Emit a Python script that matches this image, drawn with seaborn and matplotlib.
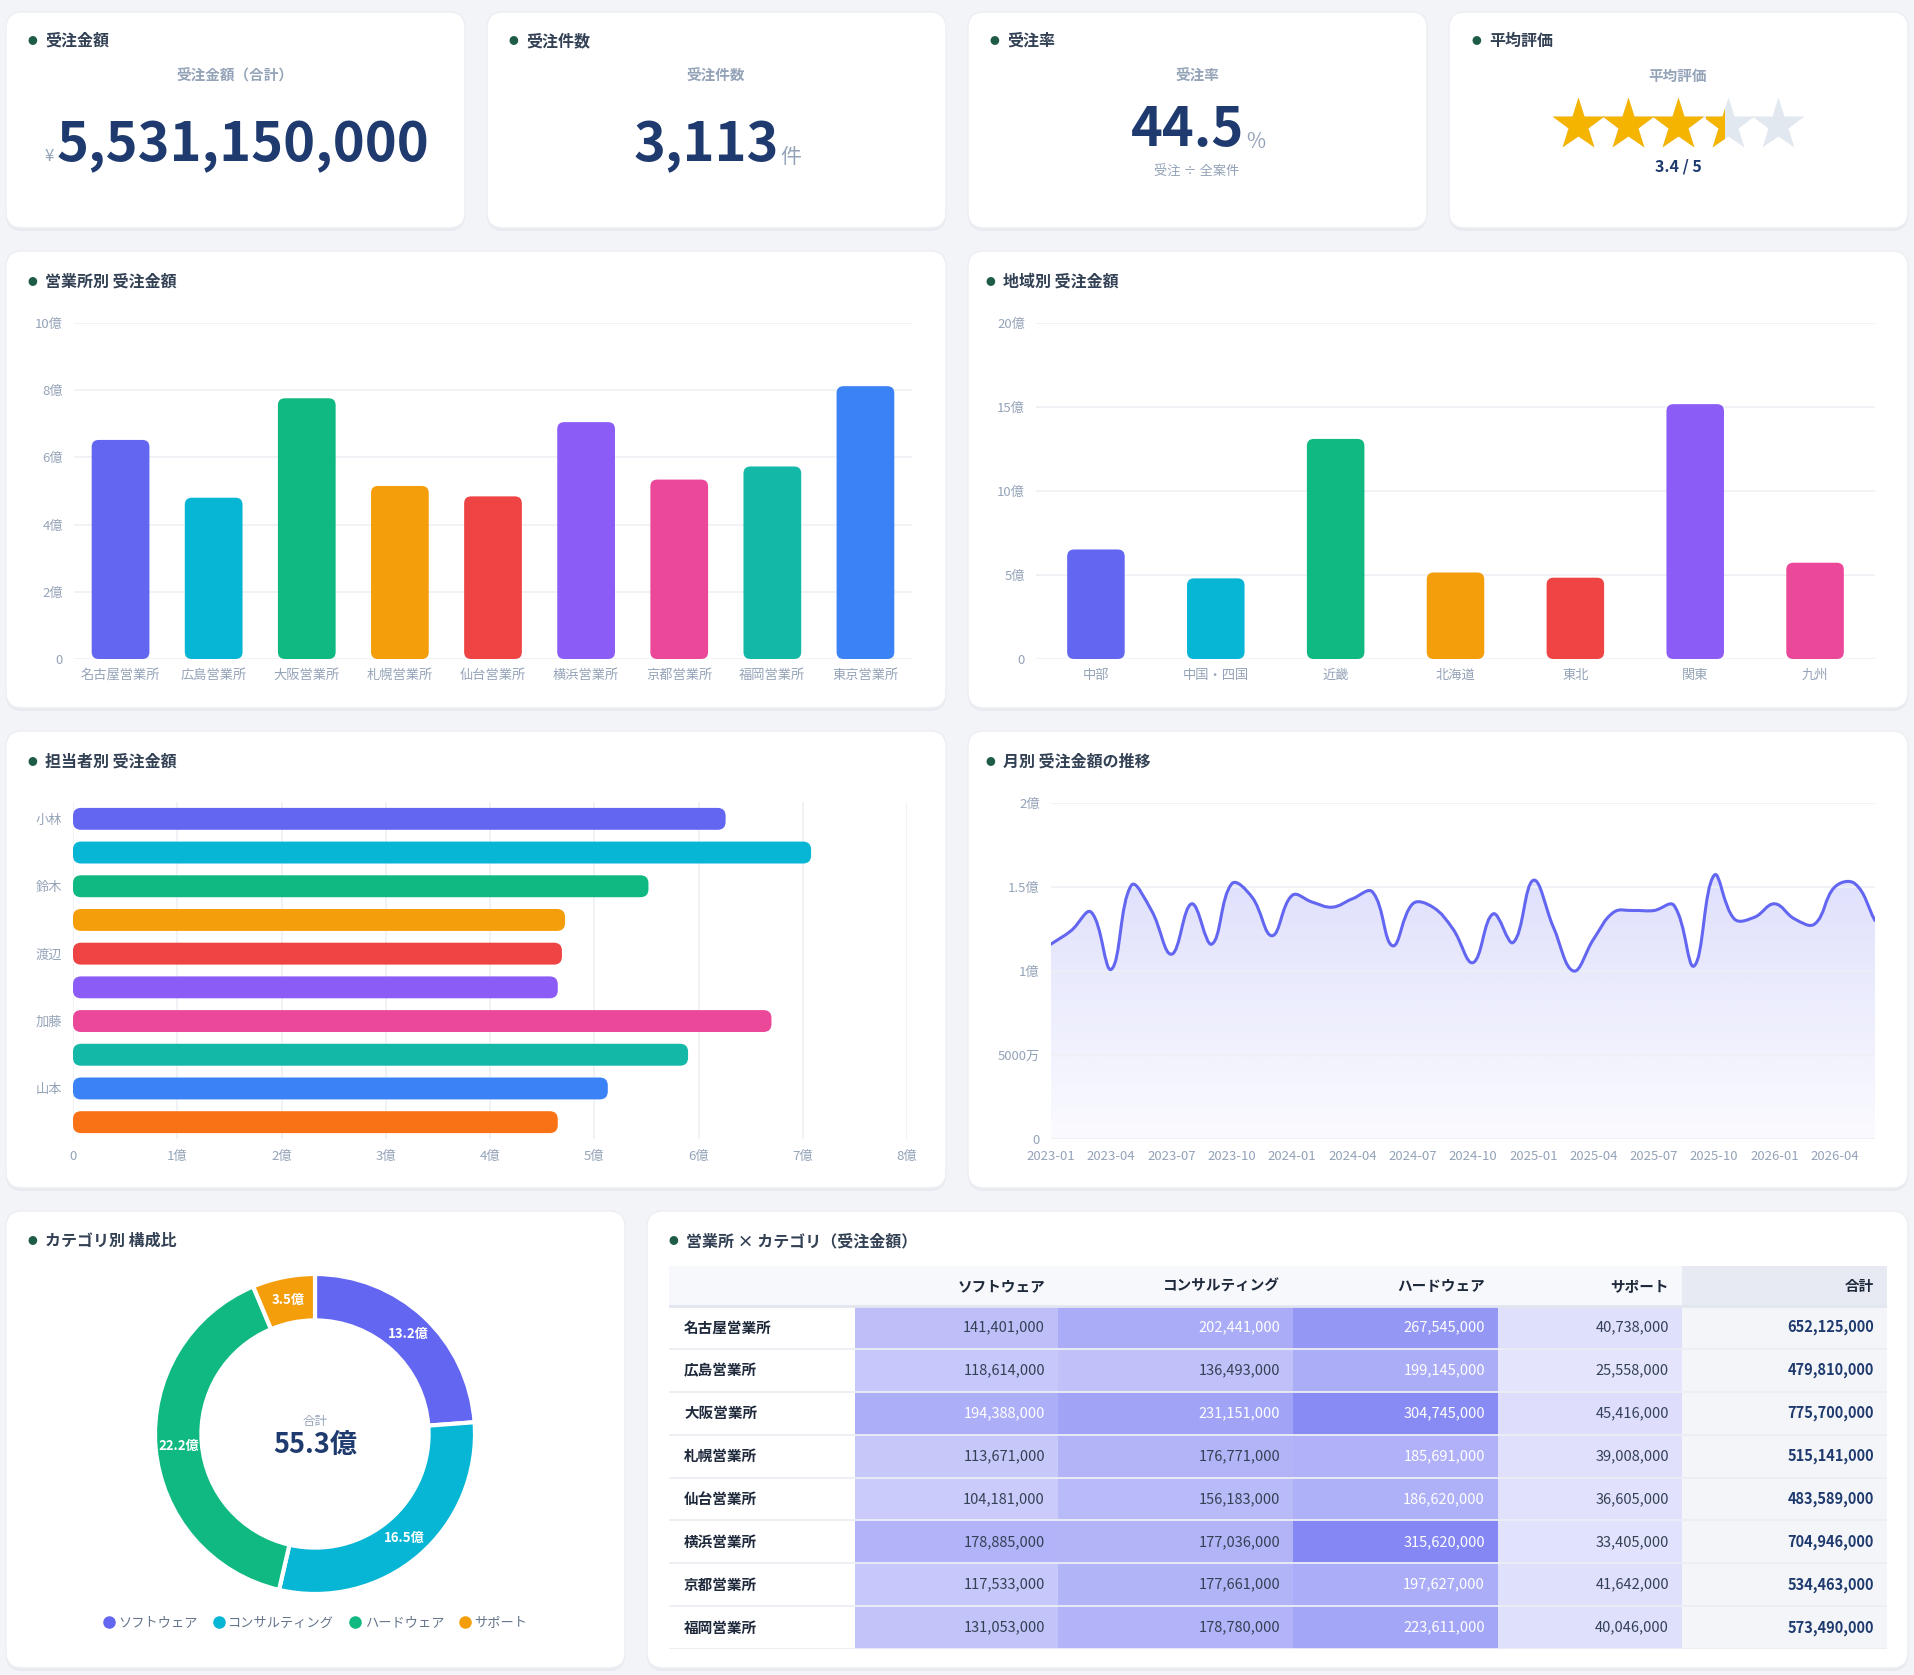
import numpy as np
import pandas as pd
import matplotlib
matplotlib.use('Agg')
import matplotlib.pyplot as plt
import seaborn as sns
from matplotlib.patches import FancyBboxPatch, Rectangle, PathPatch
from matplotlib.path import Path
from matplotlib.colors import LinearSegmentedColormap, to_rgb
from matplotlib.lines import Line2D

# ---------------- data ----------------
offices = ['名古屋営業所', '広島営業所', '大阪営業所', '札幌営業所', '仙台営業所',
           '横浜営業所', '京都営業所', '福岡営業所', '東京営業所']
office_sales = [6.52, 4.80, 7.76, 5.15, 4.84, 7.05, 5.34, 5.73, 8.12]  # 億円

regions = ['中部', '中国・四国', '近畿', '北海道', '東北', '関東', '九州']
region_sales = [6.52, 4.80, 13.10, 5.15, 4.84, 15.17, 5.73]

people = ['小林', '', '鈴木', '', '渡辺', '', '加藤', '', '山本', '']
person_sales = [6.26, 7.08, 5.52, 4.72, 4.69, 4.65, 6.70, 5.90, 5.13, 4.65]

months = pd.date_range('2023-01-01', periods=42, freq='MS').strftime('%Y-%m').tolist()
monthly_sales = [1.16, 1.24, 1.35, 1.01, 1.51, 1.36, 1.10, 1.40, 1.16, 1.52,
                 1.44, 1.21, 1.45, 1.41, 1.38, 1.43, 1.47, 1.15, 1.40, 1.38,
                 1.25, 1.05, 1.34, 1.17, 1.54, 1.26, 1.00, 1.19, 1.35, 1.36,
                 1.36, 1.39, 1.03, 1.57, 1.31, 1.32, 1.40, 1.31, 1.28, 1.50,
                 1.52, 1.30]

categories = ['ソフトウェア', 'コンサルティング', 'ハードウェア', 'サポート']
category_sales = [13.2, 16.5, 22.2, 3.5]

table_offices = offices[:8]
software = [141401000, 118614000, 194388000, 113671000, 104181000, 178885000, 117533000, 131053000]
consulting = [202441000, 136493000, 231151000, 176771000, 156183000, 177036000, 177661000, 178780000]
hardware = [267545000, 199145000, 304745000, 185691000, 186620000, 315620000, 197627000, 223611000]
support = [40738000, 25558000, 45416000, 39008000, 36605000, 33405000, 41642000, 40046000]

total_amount = 5531150000
order_count = 3113
win_rate = 44.5
rating = 3.4

palette = ['#6366f1', '#06b6d4', '#10b981', '#f59e0b', '#ef4444',
           '#8b5cf6', '#ec4899', '#14b8a6', '#3b82f6', '#f97316']

# ---------------- setup ----------------
W, H = 1914, 1675
plt.rcParams['font.family'] = ['Noto Sans CJK JP', 'DejaVu Sans']
fig = plt.figure(figsize=(W / 100, H / 100), dpi=100, facecolor='#f3f4f7')

NAVY = '#1e3a6e'
TICK = '#94a3b8'
GRID = '#edf0f4'
TITLE = '#334155'


def fx(x):
    return x / W


def fy(y):
    return 1 - y / H


def add_ax(x0, y0, x1, y1):
    return fig.add_axes([fx(x0), fy(y1), (x1 - x0) / W, (y1 - y0) / H])


def card(x0, y0, x1, y1):
    sh = FancyBboxPatch((x0 / 100, (H - y1 - 3) / 100), (x1 - x0) / 100, (y1 - y0) / 100,
                        boxstyle='round,pad=0,rounding_size=0.16', transform=fig.dpi_scale_trans,
                        fc='#e8eaf0', ec='none', zorder=-3)
    fig.add_artist(sh)
    p = FancyBboxPatch((x0 / 100, (H - y1) / 100), (x1 - x0) / 100, (y1 - y0) / 100,
                       boxstyle='round,pad=0,rounding_size=0.16', transform=fig.dpi_scale_trans,
                       fc='white', ec='#eceef3', lw=1, zorder=-2)
    fig.add_artist(p)


def title(x, y, s):
    fig.text(fx(x), fy(y), '●', color='#1f5c45', fontsize=7, ha='center', va='center')
    fig.text(fx(x + 13), fy(y), s, fontsize=11.5, weight='bold', color=TITLE, ha='left', va='center')


def style(ax):
    for s in ax.spines.values():
        s.set_visible(False)
    ax.tick_params(length=0, labelsize=9.5, labelcolor=TICK)
    ax.set_xlabel('')
    ax.set_ylabel('')
    ax.patch.set_alpha(0)


def round_bars(ax, r_px):
    x0, x1 = ax.get_xlim()
    y0, y1 = ax.get_ylim()
    bb = ax.get_position()
    sx = abs(x1 - x0) / (bb.width * W)
    sy = abs(y1 - y0) / (bb.height * H)
    for p in list(ax.patches):
        x, y, w, h = p.get_x(), p.get_y(), p.get_width(), p.get_height()
        fc = p.get_facecolor()
        p.remove()
        ax.add_patch(FancyBboxPatch((x, y), w, h,
                                    boxstyle=f'round,pad=0,rounding_size={r_px * sx}',
                                    mutation_aspect=sy / sx, fc=fc, ec='none', zorder=2))


def smooth_path(ax, xs, ys, tension=0.4):
    # bezier path through the points (same idea as a "tension" line style)
    bb = ax.get_position()
    x0, x1 = ax.get_xlim()
    y0, y1 = ax.get_ylim()
    kx = bb.width * W / (x1 - x0)
    ky = bb.height * H / (y1 - y0)
    P = np.column_stack([np.asarray(xs, float) * kx, np.asarray(ys, float) * ky])
    n = len(P)
    cp_prev = P.copy()
    cp_next = P.copy()
    for i in range(n):
        p0 = P[max(i - 1, 0)]
        p1 = P[i]
        p2 = P[min(i + 1, n - 1)]
        d01 = np.hypot(*(p1 - p0))
        d12 = np.hypot(*(p2 - p1))
        tot = d01 + d12
        s01 = d01 / tot if tot else 0
        s12 = d12 / tot if tot else 0
        cp_prev[i] = p1 - tension * s01 * (p2 - p0)
        cp_next[i] = p1 + tension * s12 * (p2 - p0)
    verts = [P[0]]
    codes = [Path.MOVETO]
    for i in range(n - 1):
        verts += [cp_next[i], cp_prev[i + 1], P[i + 1]]
        codes += [Path.CURVE4] * 3
    verts = np.array(verts) / [kx, ky]
    return verts, codes


# ---------------- cards ----------------
kpi_x = [(6, 465), (487, 946), (968, 1427), (1449, 1908)]
for a, b in kpi_x:
    card(a, 12, b, 228)
card(6, 251, 946, 708)
card(968, 251, 1908, 708)
card(6, 731, 946, 1188)
card(968, 731, 1908, 1188)
card(6, 1211, 625, 1668)
card(647, 1211, 1908, 1668)

# ---------------- KPI ----------------
title(32, 41, '受注金額')
title(513, 41, '受注件数')
title(994, 41, '受注率')
title(1476, 41, '平均評価')

for cx, s in [(235, '受注金額（合計）'), (716, '受注件数'), (1197, '受注率'), (1678, '平均評価')]:
    fig.text(fx(cx), fy(76), s, fontsize=10.5, weight='bold', color=TICK, ha='center', va='center')

renderer = fig.canvas.get_renderer()


def big_number(cx, base_y, s, prefix=None, suffix=None):
    t = fig.text(fx(cx), fy(base_y), s, fontsize=39, weight='bold', color=NAVY,
                 ha='center', va='baseline')
    bb = t.get_window_extent(renderer=renderer)
    if prefix:
        fig.text((bb.x0 - 3) / W, fy(base_y), prefix, fontsize=12, color=TICK,
                 ha='right', va='baseline')
    if suffix:
        fig.text((bb.x1 + 2) / W, fy(base_y + 2), suffix, fontsize=15, color=TICK,
                 ha='left', va='baseline')


big_number(243, 161, f'{total_amount:,}', prefix='¥')
big_number(706, 161, f'{order_count:,}', suffix='件')
big_number(1188, 146, f'{win_rate}', suffix='%')
fig.text(fx(1197), fy(172), '受注 ÷ 全案件', fontsize=9.5, color=TICK, ha='center', va='center')

# stars
axs = add_ax(1449, 90, 1908, 160)
axs.set_xlim(1449, 1908)
axs.set_ylim(160, 90)
axs.axis('off')
star_x = [1578 + 50 * i for i in range(5)]
for i, sxp in enumerate(star_x):
    axs.plot([sxp], [125], marker='*', ms=40, color='#e2e8f0', mec='none')
    if i < int(rating):
        axs.plot([sxp], [125], marker='*', ms=40, color='#f5b400', mec='none')
    elif i == int(rating):
        frac = rating - int(rating)
        ln, = axs.plot([sxp], [125], marker='*', ms=40, color='#f5b400', mec='none')
        clip = Rectangle((sxp - 22, 90), 44 * frac, 70, transform=axs.transData)
        ln.set_clip_path(clip)
fig.text(fx(1678), fy(167), f'{rating} / 5', fontsize=11.5, weight='bold', color=NAVY, ha='center', va='center')

# ---------------- office bar ----------------
title(32, 282, '営業所別 受注金額')
ax1 = add_ax(74, 323, 912, 659)
sns.barplot(x=offices, y=office_sales, hue=offices, palette=palette[:9], width=0.62,
            saturation=1, legend=False, ax=ax1)
style(ax1)
ax1.set_ylim(0, 10)
ax1.set_xlim(-0.5, 8.5)
ax1.set_yticks([0, 2, 4, 6, 8, 10])
ax1.set_yticklabels(['0', '2億', '4億', '6億', '8億', '10億'])
ax1.yaxis.grid(True, color=GRID, lw=1.2)
ax1.set_axisbelow(True)
ax1.tick_params(axis='x', pad=7)
ax1.tick_params(axis='y', pad=8)
round_bars(ax1, 7)

# ---------------- region bar ----------------
title(990, 282, '地域別 受注金額')
ax2 = add_ax(1036, 323, 1875, 659)
sns.barplot(x=regions, y=region_sales, hue=regions, palette=palette[:7], width=0.48,
            saturation=1, legend=False, ax=ax2)
style(ax2)
ax2.set_ylim(0, 20)
ax2.set_xlim(-0.5, 6.5)
ax2.set_yticks([0, 5, 10, 15, 20])
ax2.set_yticklabels(['0', '5億', '10億', '15億', '20億'])
ax2.yaxis.grid(True, color=GRID, lw=1.2)
ax2.set_axisbelow(True)
ax2.tick_params(axis='x', pad=7)
ax2.tick_params(axis='y', pad=8)
round_bars(ax2, 7)

# ---------------- person hbar ----------------
title(32, 762, '担当者別 受注金額')
ax3 = add_ax(73, 802, 907, 1139)
ranks = [str(i) for i in range(len(person_sales))]
sns.barplot(x=person_sales, y=ranks, hue=ranks, palette=palette, width=0.65, orient='h',
            saturation=1, legend=False, ax=ax3)
style(ax3)
ax3.set_xlim(0, 8)
ax3.set_ylim(9.5, -0.5)
ax3.set_xticks(range(9))
ax3.set_xticklabels(['0'] + [f'{i}億' for i in range(1, 9)])
ax3.set_yticks(range(len(people)))
ax3.set_yticklabels(people)
ax3.xaxis.grid(True, color=GRID, lw=1.2)
ax3.set_axisbelow(True)
ax3.tick_params(axis='x', pad=8)
ax3.tick_params(axis='y', pad=8)
round_bars(ax3, 8)

# ---------------- monthly line ----------------
title(990, 762, '月別 受注金額の推移')
ax4 = add_ax(1051, 803, 1875, 1139)
idx = np.arange(len(monthly_sales))
# seaborn draws the points; the visible curve is a smoothed path through them
sns.lineplot(x=idx, y=monthly_sales, color='#6366f1', lw=0, ax=ax4)
style(ax4)
ax4.set_xlim(0, len(monthly_sales) - 1)
ax4.set_ylim(0, 2)
ax4.set_yticks([0, 0.5, 1, 1.5, 2])
ax4.set_yticklabels(['0', '5000万', '1億', '1.5億', '2億'])
ax4.set_xticks(idx[::3])
ax4.set_xticklabels(months[::3])
ax4.yaxis.grid(True, color=GRID, lw=1.2, zorder=1)
ax4.set_axisbelow(True)
ax4.tick_params(axis='x', pad=8)
ax4.tick_params(axis='y', pad=8)

verts, codes = smooth_path(ax4, idx, monthly_sales)
line_path = Path(verts, codes)
ax4.add_patch(PathPatch(line_path, fc='none', ec='#6366f1', lw=2.2, zorder=3, capstyle='round'))
fill_verts = np.vstack([verts, [[idx[-1], 0], [idx[0], 0], verts[0]]])
fill_codes = codes + [Path.LINETO, Path.LINETO, Path.CLOSEPOLY]
fill_path = Path(fill_verts, fill_codes)
grad_cmap = LinearSegmentedColormap.from_list(
    'g', [(0.388, 0.4, 0.945, 0.03), (0.388, 0.4, 0.945, 0.21)])
im = ax4.imshow(np.linspace(0, 1, 256).reshape(-1, 1),
                extent=[0, len(monthly_sales) - 1, 0, max(monthly_sales) + 0.05],
                origin='lower', aspect='auto', cmap=grad_cmap, zorder=0.2)
im.set_clip_path(fill_path, transform=ax4.transData)
ax4.set_xlim(0, len(monthly_sales) - 1)
ax4.set_ylim(0, 2)
for gl in ax4.get_ygridlines():
    gl.set_zorder(1)

# ---------------- donut ----------------
title(32, 1241, 'カテゴリ別 構成比')
ax5 = add_ax(315 - 160, 1434 - 160, 315 + 160, 1434 + 160)
cat_colors = palette[:4]
wedges, _ = ax5.pie(category_sales, colors=cat_colors, startangle=90, counterclock=False,
                    radius=1, wedgeprops=dict(width=0.29, edgecolor='white', linewidth=3))
ax5.set_xlim(-1, 1)
ax5.set_ylim(-1, 1)
ax5.set_aspect('equal')
for w, v in zip(wedges, category_sales):
    ang = np.deg2rad((w.theta1 + w.theta2) / 2)
    ax5.text(0.855 * np.cos(ang), 0.855 * np.sin(ang), f'{v}億', color='white', fontsize=9.5,
             weight='bold', ha='center', va='center')
ax5.text(0, 0.08, '合計', fontsize=9, color=TICK, ha='center', va='center')
ax5.text(0, -0.07, f'{sum(category_sales) - 0.1:.1f}億', fontsize=19.5, weight='bold',
         color=NAVY, ha='center', va='center')
handles = [Line2D([], [], marker='o', ls='none', color=c, ms=8) for c in cat_colors]
fig.legend(handles, categories, loc='center', bbox_to_anchor=(fx(315), fy(1623)), ncol=4,
           frameon=False, fontsize=9.5, labelcolor='#64748b', handletextpad=0.2,
           columnspacing=1.1, handlelength=1.0)

# ---------------- table ----------------
title(673, 1241, '営業所 × カテゴリ（受注金額）')
ax6 = add_ax(669, 1266, 1887, 1649)
ax6.set_xlim(669, 1887)
ax6.set_ylim(1649, 1266)
ax6.axis('off')
x_edges = [855, 1058, 1293, 1498, 1682]
head_top, head_bot = 1266, 1306
row_h = (1649 - head_bot) / len(table_offices)
y_edges = [head_bot + row_h * i for i in range(len(table_offices) + 1)]
mat = np.array([software, consulting, hardware, support]).T / 1e6
totals = mat.sum(axis=1)
base = np.array(to_rgb('#6366f1'))
lo = 1 - (1 - base) * 0.12
hi = 1 - (1 - base) * 0.78
heat_cmap = LinearSegmentedColormap.from_list('h', [lo, hi])
ax6.add_patch(Rectangle((669, head_top), 1887 - 669, head_bot - head_top, fc='#f7f8fb', ec='none', zorder=0))
ax6.add_patch(Rectangle((1682, head_top), 1887 - 1682, head_bot - head_top, fc='#e7eaf2', ec='none', zorder=0))
ax6.add_patch(Rectangle((1682, head_bot), 1887 - 1682, 1649 - head_bot, fc='#f4f5f8', ec='none', zorder=0))
ax6.pcolormesh(x_edges, y_edges, mat, cmap=heat_cmap, vmin=0, vmax=mat.max(), zorder=1)
ax6.plot([669, 1887], [head_bot, head_bot], color='#e2e6ee', lw=2, zorder=3)
for y in y_edges[1:]:
    ax6.plot([669, 1887], [y, y], color='#eceef3', lw=1.3, zorder=3)
for j, c in enumerate(categories):
    ax6.text(x_edges[j + 1] - 13, (head_top + head_bot) / 2, c, fontsize=10.5, weight='bold',
             color='#1e293b', ha='right', va='center', zorder=4)
ax6.text(1887 - 13, (head_top + head_bot) / 2, '合計', fontsize=10.5, weight='bold',
         color='#1e293b', ha='right', va='center', zorder=4)
thr = mat.max() * 0.575
for i, name in enumerate(table_offices):
    yc = (y_edges[i] + y_edges[i + 1]) / 2
    ax6.text(684, yc, name, fontsize=10.5, weight='bold', color='#1e293b', ha='left', va='center', zorder=4)
    for j in range(4):
        v = mat[i, j]
        ax6.text(x_edges[j + 1] - 13, yc, f'{int(round(v * 1e6)):,}', fontsize=10.5,
                 color='white' if v > thr else '#334155', ha='right', va='center', zorder=4)
    ax6.text(1887 - 13, yc, f'{int(round(totals[i] * 1e6)):,}', fontsize=10.5, weight='bold',
             color=NAVY, ha='right', va='center', zorder=4)

fig.savefig('out.png', dpi=100, facecolor=fig.get_facecolor())
